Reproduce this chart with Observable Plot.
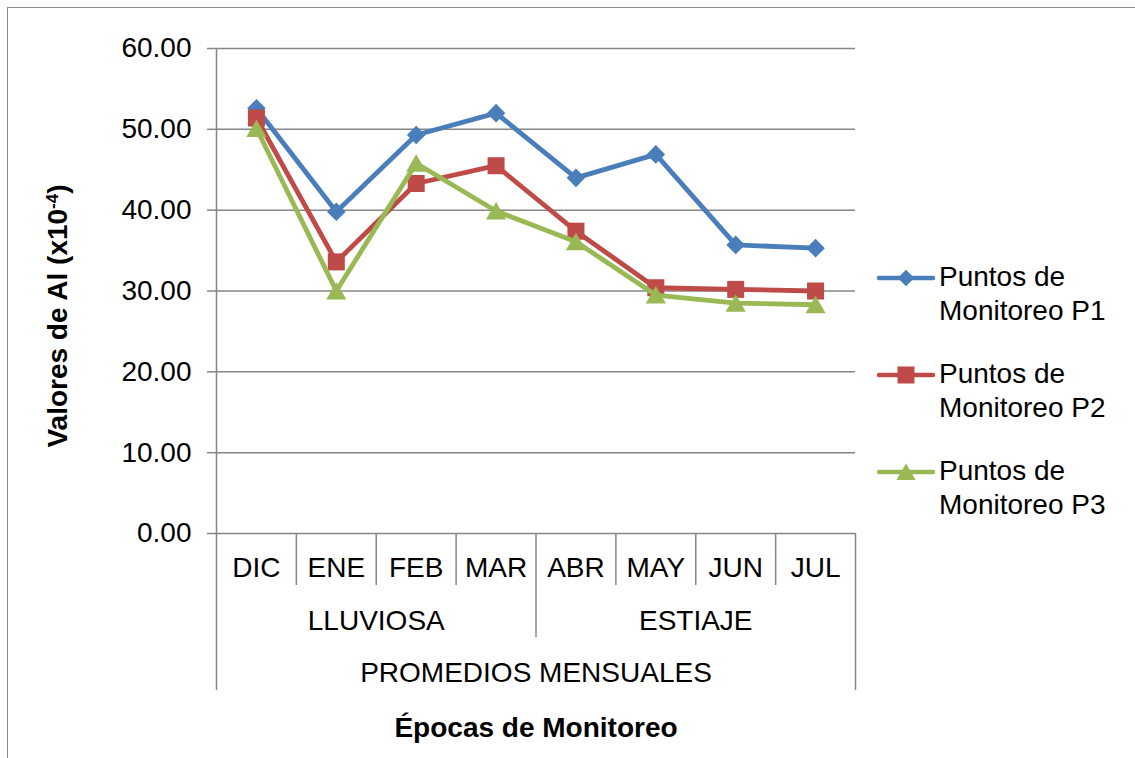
<!DOCTYPE html>
<html>
<head>
<meta charset="utf-8">
<script src="https://cdn.jsdelivr.net/npm/d3@7"></script>
<script src="https://cdn.jsdelivr.net/npm/@observablehq/plot@0.6"></script>
<style>
  html, body { margin: 0; padding: 0; background: #fff; overflow: hidden; }
  #wrap { position: relative; width: 1135px; height: 758px; overflow: hidden; font-family: 'Liberation Sans', Arial, sans-serif; }
  #border { position: absolute; left: 7px; top: 7px; width: 1200px; height: 800px; border-top: 1.5px solid #8a8a8a; border-left: 1.5px solid #8a8a8a; }
  #chart { position: absolute; left: 0; top: 0; }
  .leg { position: absolute; left: 876px; font-size: 28px; line-height: 34px; color: #000; }
  .leg svg { position: absolute; left: 0; top: 0; }
  .leg span { position: absolute; left: 63px; top: 0; white-space: nowrap; }
</style>
</head>
<body>
<div id="wrap"><div id="border"></div><div id="chart"></div><div id="legend"></div></div>
<script>
// ---- data ----
const months = ["DIC", "ENE", "FEB", "MAR", "ABR", "MAY", "JUN", "JUL"];
const groupLabels = ["LLUVIOSA", "ESTIAJE"];
const groupSizes = [4, 4];
const outerLabel = "PROMEDIOS MENSUALES";
const seriesNames = ["Puntos de Monitoreo P1", "Puntos de Monitoreo P2", "Puntos de Monitoreo P3"];
const p1 = [52.6, 39.8, 49.3, 52.0, 44.0, 46.9, 35.7, 35.3];
const p2 = [51.4, 33.6, 43.3, 45.5, 37.4, 30.4, 30.2, 30.0];
const p3 = [50.1, 30.0, 45.8, 39.9, 36.1, 29.5, 28.5, 28.3];
const yTicks = [0, 10, 20, 30, 40, 50, 60];
const yTitle = "Valores de Al (x10";
const yTitleSup = "-4";
const xTitle = "Épocas de Monitoreo";

// ---- derived tables ----
const series = [p1, p2, p3];
const colors = ["#4A7EBB", "#BE4B48", "#98B954"];
const symbols = ["diamond2", "square", "triangle"];
const radii = [8.4, 9.6, 7.5];
const rows = months.map((m, i) => ({m, i, x: i + 0.5}));
const monthSeps = d3.range(1, months.length);
const groupBounds = d3.cumsum(groupSizes).slice(0, -1);
const groupRows = groupLabels.map((g, k) => {
  const start = k === 0 ? 0 : d3.sum(groupSizes.slice(0, k));
  return {g, x: start + groupSizes[k] / 2};
});
const grid = "#868686";

const marks = [
  Plot.ruleY(yTicks, {y: d => d, x1: 0, x2: months.length, stroke: grid, strokeWidth: 1.5}),
  Plot.axisY({ticks: yTicks, tickSize: 9, tickPadding: 16, tickFormat: d3.format(".2f"),
              stroke: grid, strokeWidth: 1.5, fill: "#000", label: null, fontSize: 28}),
  Plot.ruleX([0], {y1: 0, y2: 60, stroke: grid, strokeWidth: 1.5}),
  // category separators
  Plot.ruleX(monthSeps.filter(b => !groupBounds.includes(b)), {x: d => d, y1: 0, y2: -6.43, stroke: grid, strokeWidth: 1.5}),
  Plot.ruleX(groupBounds, {x: d => d, y1: 0, y2: -12.87, stroke: grid, strokeWidth: 1.5}),
  Plot.ruleX([0, months.length], {x: d => d, y1: 0, y2: -19.42, stroke: grid, strokeWidth: 1.5}),
  // category labels
  Plot.text(rows, {x: "x", y: 0, dy: 35, text: "m", fill: "#000", fontSize: 28}),
  Plot.text(groupRows, {x: "x", y: 0, dy: 88, text: "g", fill: "#000", fontSize: 28}),
  Plot.text([outerLabel], {x: months.length / 2, y: 0, dy: 140, text: d => d, fill: "#000", fontSize: 28}),
  Plot.text([xTitle], {x: months.length / 2, y: 0, dy: 195, text: d => d, fill: "#000", fontSize: 28, fontWeight: "bold"}),
  Plot.text([yTitle], {frameAnchor: "left", textAnchor: "middle", dx: -158, dy: 25, rotate: -90, text: d => d, fill: "#000", fontSize: 28, fontWeight: "bold"})
];
series.forEach((s, k) => {
  marks.push(Plot.line(rows, {x: "x", y: d => s[d.i], stroke: colors[k], strokeWidth: 4.8, strokeLinejoin: "round", strokeLinecap: "round"}));
  marks.push(Plot.dot(rows, {x: "x", y: d => s[d.i], symbol: symbols[k], r: radii[k], fill: colors[k], stroke: "none", dy: k === 2 ? 2.7 : 0}));
});

const chart = Plot.plot({
  width: 1135, height: 758,
  marginLeft: 216, marginRight: 280, marginTop: 48, marginBottom: 225,
  x: {domain: [0, months.length], axis: null},
  y: {domain: [0, 60], axis: null},
  style: {fontFamily: "'Liberation Sans', Arial, sans-serif", fontSize: "28px", background: "transparent", overflow: "visible", color: "#000"},
  marks
});
document.getElementById("chart").appendChild(chart);

// superscript in y title
d3.select(chart).selectAll("text").each(function() {
  if (this.textContent === yTitle) {
    const t = d3.select(this);
    t.text(null);
    t.append("tspan").text(yTitle);
    t.append("tspan").attr("baseline-shift", "super").attr("font-size", "17px").text(yTitleSup);
    t.append("tspan").text(")");
  }
});

// legend
const legend = d3.select("#legend");
const legTops = [260, 357, 454];
series.forEach((s, k) => {
  const item = legend.append("div").attr("class", "leg").style("top", legTops[k] + "px");
  const svg = item.append("svg").attr("width", 62).attr("height", 34);
  svg.append("line").attr("x1", 3).attr("x2", 57).attr("y1", 18).attr("y2", 18)
     .attr("stroke", colors[k]).attr("stroke-width", 4.5).attr("stroke-linecap", "round");
  const sym = d3.symbol().type(k === 0 ? d3.symbolDiamond2 : k === 1 ? d3.symbolSquare : d3.symbolTriangle)
    .size(Math.PI * radii[k] * radii[k] * (k === 0 ? 0.8 : k === 2 ? 0.9 : 1));
  svg.append("path").attr("d", sym()).attr("fill", colors[k])
     .attr("transform", `translate(30,${k === 2 ? 20.5 : 18})`);
  const parts = seriesNames[k].split(" ");
  item.append("span").html(parts.slice(0, 2).join(" ") + "<br>" + parts.slice(2).join(" "));
});
</script>
</body>
</html>
